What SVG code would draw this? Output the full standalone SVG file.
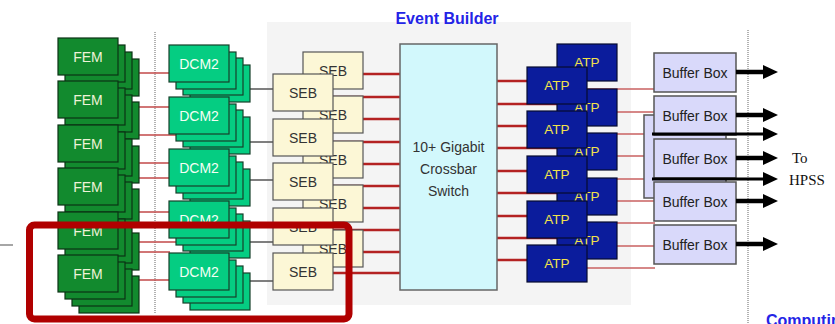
<svg xmlns="http://www.w3.org/2000/svg" width="835" height="324" viewBox="0 0 835 324">
<defs>
<style>
.fem{fill:#128a2e;stroke:#0b3314;stroke-width:1.2}
.dcm{fill:#05cd82;stroke:#17402a;stroke-width:1.2}
.seb{fill:#fcf7d6;stroke:#555;stroke-width:1.2}
.atp{fill:#0b1c9c;stroke:#050a30;stroke-width:1.2}
.bb{fill:#d9d9fa;stroke:#555;stroke-width:1.5}
.xb{fill:#d2f8fc;stroke:#666;stroke-width:1.5}
.t{font-family:"Liberation Sans",Arial,sans-serif;font-size:14px;text-anchor:middle}
.tf{fill:#eef2d8}
.td{fill:#f4fff4}
.ts{fill:#333}
.ta{fill:#f2e24a;font-size:13.5px}
.tb{fill:#222}
.r1{stroke:#c24a4a;stroke-width:1.5;fill:none}
.r2{stroke:#b42222;stroke-width:2.5;fill:none}
.r3{stroke:#c96262;stroke-width:1.5;fill:none}
.g1{stroke:#555;stroke-width:1.3;fill:none}
.dot{stroke:#999;stroke-width:1.5;stroke-dasharray:1 1;fill:none}
.arr{stroke:#000;stroke-width:4.5;fill:none}
.serif{font-family:"Liberation Serif","Times New Roman",serif;font-size:15px;fill:#111}
</style>
<marker id="ah" viewBox="0 0 15 14" refX="0" refY="7" markerWidth="15" markerHeight="14" markerUnits="userSpaceOnUse" orient="auto">
<path d="M0,0 L15,7 L0,14 z" fill="#000"/>
</marker>
</defs>

<rect id="eb-panel" x="267" y="22" width="364" height="283" fill="#f4f4f4"/>
<text id="eb-title" x="447" y="24" style="font-family:'Liberation Sans',Arial,sans-serif;font-size:16px;font-weight:bold;fill:#2424e6;text-anchor:middle">Event Builder</text>

<line class="dot" x1="155" y1="32" x2="155" y2="313"/>
<line class="dot" x1="748" y1="30" x2="748" y2="324"/>
<line x1="0" y1="245" x2="13" y2="245" stroke="#888" stroke-width="1.5"/>

<g id="connectors">
<path class="r1" d="M139,73H170M139,107H170M139,135H177M139,163H170M139,178H170M139,212H170M139,242H177M139,252H170M139,280H170"/>
<path class="g1" d="M248,89H274M248,142H274M248,180H274M248,242H274M248,281H274"/>
<path class="r2" d="M355,74H401M330,97H401M355,119H401M330,142H401M355,164H401M330,186H401M355,208H401M330,230H401M355,252H401M330,273H401"/>
<path class="r2" d="M496,81H530M496,104H560M496,126H530M496,148H560M496,171H530M496,193H560M496,216H530M496,238H560M496,260H530"/>
<path class="r3" d="M585,89H655M612,112H655M585,134H655M612,156H655M585,179H655M612,201H655M585,223H655M612,246H655M585,268H655"/>
</g>

<g id="fem1"><rect class="fem" x="79" y="59" width="60" height="37"/><rect class="fem" x="72" y="52" width="60" height="37"/><rect class="fem" x="65" y="45" width="60" height="37"/><rect class="fem" x="58" y="38" width="60" height="37"/><text class="t tf" x="88" y="61.5">FEM</text></g>
<g id="fem2"><rect class="fem" x="79" y="102" width="60" height="37"/><rect class="fem" x="72" y="95" width="60" height="37"/><rect class="fem" x="65" y="88" width="60" height="37"/><rect class="fem" x="58" y="81" width="60" height="37"/><text class="t tf" x="88" y="104.5">FEM</text></g>
<g id="fem3"><rect class="fem" x="79" y="146" width="60" height="37"/><rect class="fem" x="72" y="139" width="60" height="37"/><rect class="fem" x="65" y="132" width="60" height="37"/><rect class="fem" x="58" y="125" width="60" height="37"/><text class="t tf" x="88" y="148.5">FEM</text></g>
<g id="fem4"><rect class="fem" x="79" y="189" width="60" height="37"/><rect class="fem" x="72" y="182" width="60" height="37"/><rect class="fem" x="65" y="175" width="60" height="37"/><rect class="fem" x="58" y="168" width="60" height="37"/><text class="t tf" x="88" y="191.5">FEM</text></g>
<g id="fem5"><rect class="fem" x="79" y="233" width="60" height="37"/><rect class="fem" x="72" y="226" width="60" height="37"/><rect class="fem" x="65" y="219" width="60" height="37"/><rect class="fem" x="58" y="212" width="60" height="37"/><text class="t tf" x="88" y="235.5">FEM</text></g>
<g id="fem6"><rect class="fem" x="79" y="276" width="60" height="37"/><rect class="fem" x="72" y="269" width="60" height="37"/><rect class="fem" x="65" y="262" width="60" height="37"/><rect class="fem" x="58" y="255" width="60" height="37"/><text class="t tf" x="88" y="278.5">FEM</text></g>

<g id="dcm1"><rect class="dcm" x="190" y="65" width="60" height="37"/><rect class="dcm" x="183" y="58" width="60" height="37"/><rect class="dcm" x="176" y="52" width="60" height="37"/><rect class="dcm" x="169" y="45" width="60" height="37"/><text class="t td" x="199" y="68.5">DCM2</text></g>
<g id="dcm2"><rect class="dcm" x="190" y="117" width="60" height="37"/><rect class="dcm" x="183" y="110" width="60" height="37"/><rect class="dcm" x="176" y="104" width="60" height="37"/><rect class="dcm" x="169" y="97" width="60" height="37"/><text class="t td" x="199" y="120.5">DCM2</text></g>
<g id="dcm3"><rect class="dcm" x="190" y="169" width="60" height="37"/><rect class="dcm" x="183" y="162" width="60" height="37"/><rect class="dcm" x="176" y="156" width="60" height="37"/><rect class="dcm" x="169" y="149" width="60" height="37"/><text class="t td" x="199" y="172.5">DCM2</text></g>
<g id="dcm4"><rect class="dcm" x="190" y="221" width="60" height="37"/><rect class="dcm" x="183" y="214" width="60" height="37"/><rect class="dcm" x="176" y="208" width="60" height="37"/><rect class="dcm" x="169" y="201" width="60" height="37"/><text class="t td" x="199" y="224.5">DCM2</text></g>
<g id="dcm5"><rect class="dcm" x="190" y="273" width="60" height="37"/><rect class="dcm" x="183" y="266" width="60" height="37"/><rect class="dcm" x="176" y="260" width="60" height="37"/><rect class="dcm" x="169" y="253" width="60" height="37"/><text class="t td" x="199" y="276.5">DCM2</text></g>

<g id="seb-back1"><rect class="seb" x="303" y="52" width="60" height="37"/><text class="t ts" x="333" y="75.5">SEB</text></g>
<g id="seb-back2"><rect class="seb" x="303" y="96" width="60" height="37"/><text class="t ts" x="333" y="119.5">SEB</text></g>
<g id="seb-back3"><rect class="seb" x="303" y="141" width="60" height="37"/><text class="t ts" x="333" y="164.5">SEB</text></g>
<g id="seb-back4"><rect class="seb" x="303" y="185" width="60" height="37"/><text class="t ts" x="333" y="208.5">SEB</text></g>
<g id="seb-back5"><rect class="seb" x="303" y="230" width="60" height="37"/><text class="t ts" x="333" y="253.5">SEB</text></g>
<g id="seb1"><rect class="seb" x="273" y="74" width="60" height="37"/><text class="t ts" x="303" y="97.5">SEB</text></g>
<g id="seb2"><rect class="seb" x="273" y="119" width="60" height="37"/><text class="t ts" x="303" y="142.5">SEB</text></g>
<g id="seb3"><rect class="seb" x="273" y="163" width="60" height="37"/><text class="t ts" x="303" y="186.5">SEB</text></g>
<g id="seb4"><rect class="seb" x="273" y="208" width="60" height="37"/><text class="t ts" x="303" y="231.5">SEB</text></g>
<g id="seb5"><rect class="seb" x="273" y="253" width="60" height="37"/><text class="t ts" x="303" y="276.5">SEB</text></g>

<g id="crossbar"><rect class="xb" x="400" y="44" width="97" height="246"/><text class="t ts" x="448.5" y="152">10+ Gigabit</text><text class="t ts" x="448.5" y="174">Crossbar</text><text class="t ts" x="448.5" y="196">Switch</text></g>

<g id="atp-back1"><rect class="atp" x="557" y="44" width="60" height="37"/><text class="t ta" x="587" y="67">ATP</text></g>
<g id="atp-back2"><rect class="atp" x="557" y="89" width="60" height="37"/><text class="t ta" x="587" y="112">ATP</text></g>
<g id="atp-back3"><rect class="atp" x="557" y="133" width="60" height="37"/><text class="t ta" x="587" y="156">ATP</text></g>
<g id="atp-back4"><rect class="atp" x="557" y="178" width="60" height="37"/><text class="t ta" x="587" y="201">ATP</text></g>
<g id="atp-back5"><rect class="atp" x="557" y="222" width="60" height="37"/><text class="t ta" x="587" y="245">ATP</text></g>
<g id="atp1"><rect class="atp" x="527" y="67" width="60" height="37"/><text class="t ta" x="557" y="90">ATP</text></g>
<g id="atp2"><rect class="atp" x="527" y="111" width="60" height="37"/><text class="t ta" x="557" y="134">ATP</text></g>
<g id="atp3"><rect class="atp" x="527" y="156" width="60" height="37"/><text class="t ta" x="557" y="179">ATP</text></g>
<g id="atp4"><rect class="atp" x="527" y="201" width="60" height="37"/><text class="t ta" x="557" y="224">ATP</text></g>
<g id="atp5"><rect class="atp" x="527" y="245" width="60" height="37"/><text class="t ta" x="557" y="268">ATP</text></g>

<g id="bb-back"><rect class="bb" x="644" y="115" width="82" height="83"/></g>
<g id="bb1"><rect class="bb" x="654" y="53" width="82" height="39"/><text class="t tb" x="695" y="77.5">Buffer Box</text></g>
<g id="bb2"><rect class="bb" x="654" y="96" width="82" height="39"/><text class="t tb" x="695" y="120.5">Buffer Box</text></g>
<g id="bb3"><rect class="bb" x="654" y="139" width="82" height="39"/><text class="t tb" x="695" y="163.5">Buffer Box</text></g>
<g id="bb4"><rect class="bb" x="654" y="182" width="82" height="39"/><text class="t tb" x="695" y="206.5">Buffer Box</text></g>
<g id="bb5"><rect class="bb" x="654" y="225" width="82" height="39"/><text class="t tb" x="695" y="249.5">Buffer Box</text></g>

<g id="arrows">
<path class="arr" marker-end="url(#ah)" d="M736,72H763"/>
<path class="arr" marker-end="url(#ah)" d="M736,115H763"/>
<path class="arr" style="stroke-width:3" marker-end="url(#ah)" d="M652,134H763"/>
<path class="arr" marker-end="url(#ah)" d="M736,158H763"/>
<path class="arr" style="stroke-width:3" marker-end="url(#ah)" d="M652,179H763"/>
<path class="arr" marker-end="url(#ah)" d="M736,201H763"/>
<path class="arr" marker-end="url(#ah)" d="M736,244H763"/>
</g>

<text class="serif" x="792" y="163">To</text>
<text class="serif" x="789" y="185">HPSS</text>
<text x="766" y="326" style="font-family:'Liberation Sans',Arial,sans-serif;font-size:16px;font-weight:bold;fill:#2424e6">Computing</text>

<rect id="highlight" x="29.5" y="225" width="319.5" height="94" rx="5" fill="none" stroke="#b00000" stroke-width="7"/>
</svg>
